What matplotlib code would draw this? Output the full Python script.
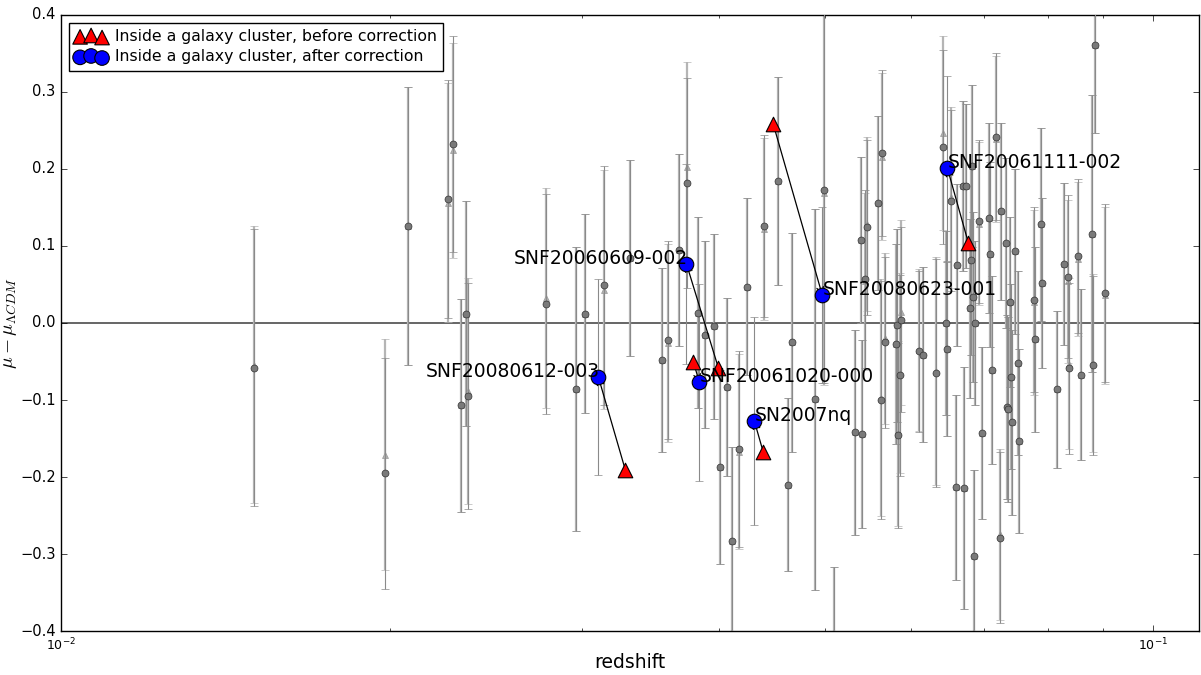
import numpy as np
import matplotlib
matplotlib.use("Agg")
import matplotlib.pyplot as plt

# ---- background SNe: redshift, residual after correction, error, shift of the "before" value ----
z = [0.01502, 0.01980, 0.02078, 0.02261, 0.02286, 0.02324, 0.02349, 0.02359, 0.02780, 0.02962,
     0.03019, 0.03143, 0.03320, 0.03551, 0.03597, 0.03681, 0.03744, 0.03832, 0.03889, 0.03963,
     0.04013, 0.04073, 0.04116, 0.04177, 0.04248, 0.04403, 0.04535, 0.04632, 0.04671, 0.04903,
     0.04997, 0.05104, 0.05335, 0.05403, 0.05414, 0.05449, 0.05472, 0.05600, 0.05636, 0.05648,
     0.05684, 0.05818, 0.05830, 0.05835, 0.05867, 0.05879, 0.06106, 0.06158, 0.06329, 0.06423,
     0.06464, 0.06470, 0.06531, 0.06614, 0.06600, 0.06699, 0.06713, 0.06741, 0.06799, 0.06813,
     0.06827, 0.06842, 0.06850, 0.06871, 0.06930, 0.06974, 0.07078, 0.07090, 0.07122, 0.07182,
     0.07244, 0.07259, 0.07336, 0.07340, 0.07366, 0.07396, 0.07413, 0.07420, 0.07475, 0.07522,
     0.07530, 0.07780, 0.07796, 0.07896, 0.07900, 0.08167, 0.08289, 0.08360, 0.08370, 0.08537,
     0.08592, 0.08793, 0.08800, 0.08850, 0.09036]
mu_after = [-0.058, -0.195, 0.126, 0.161, 0.232, -0.107, 0.012, -0.095, 0.025, -0.086,
            0.012, 0.049, 0.084, -0.048, -0.022, 0.095, 0.182, 0.013, -0.015, -0.004,
            -0.187, -0.083, -0.283, -0.164, 0.047, 0.126, 0.184, -0.210, -0.025, -0.099,
            0.172, -0.450, -0.142, 0.108, -0.144, 0.057, 0.124, 0.156, -0.100, 0.221,
            -0.025, -0.027, -0.003, -0.146, -0.068, 0.004, -0.037, -0.041, -0.065, 0.229,
            0.000, -0.034, 0.159, 0.075, -0.213, 0.178, -0.214, 0.178, 0.019, 0.082,
            0.204, 0.034, -0.303, 0.000, 0.132, -0.143, 0.136, 0.089, -0.061, 0.242,
            -0.279, 0.145, 0.104, -0.109, -0.112, 0.027, -0.070, -0.129, 0.093, -0.052,
            -0.153, 0.030, -0.021, 0.128, 0.052, -0.086, 0.077, 0.060, -0.059, 0.087,
            -0.067, 0.116, -0.055, 0.361, 0.039]
mu_err = [0.180, 0.150, 0.180, 0.155, 0.140, 0.138, 0.146, 0.147, 0.143, 0.184,
          0.129, 0.155, 0.127, 0.120, 0.128, 0.125, 0.136, 0.124, 0.121, 0.120,
          0.126, 0.115, 0.122, 0.127, 0.115, 0.118, 0.135, 0.112, 0.142, 0.247,
          0.250, 0.133, 0.133, 0.108, 0.122, 0.115, 0.113, 0.113, 0.154, 0.108,
          0.111, 0.130, 0.125, 0.120, 0.130, 0.120, 0.105, 0.114, 0.148, 0.126,
          0.120, 0.113, 0.118, 0.105, 0.120, 0.110, 0.157, 0.106, 0.116, 0.123,
          0.105, 0.110, 0.112, 0.107, 0.106, 0.112, 0.123, 0.120, 0.122, 0.108,
          0.111, 0.115, 0.110, 0.120, 0.120, 0.110, 0.120, 0.120, 0.107, 0.120,
          0.119, 0.120, 0.120, 0.125, 0.110, 0.102, 0.105, 0.106, 0.111, 0.100,
          0.111, 0.180, 0.116, 0.114, 0.115]
dmu_before = [0.004, 0.024, 0.0, -0.005, -0.008, 0.0, 0.0, 0.007, 0.007, 0.0,
              0.0, -0.006, 0.0, 0.0, -0.004, 0.0, 0.021, 0.0, 0.0, 0.0,
              0.0, 0.0, 0.0, -0.003, 0.0, -0.004, 0.0, 0.0, 0.0, 0.0,
              -0.003, 0.0, 0.0, 0.0, 0.0, -0.003, 0.004, 0.0, 0.003, -0.005,
              0.005, 0.0, 0.0, 0.003, 0.003, 0.010, 0.002, 0.0, 0.003, 0.018,
              0.0, 0.0, 0.004, 0.0, 0.0, 0.0, 0.0, 0.0, 0.0, 0.0,
              0.0, 0.0, 0.0, 0.0, -0.003, 0.0, 0.0, 0.0, 0.0, -0.003,
              0.005, 0.0, 0.0, 0.0, 0.0, 0.0, 0.0, 0.0, 0.0, 0.0,
              0.0, -0.003, 0.0, 0.0, 0.0, 0.0, 0.0, -0.006, 0.006, -0.004,
              0.0, 0.0, 0.003, 0.0, -0.003]

# ---- SNe inside a galaxy cluster ----
cl_names = ["SNF20080612-003", "SNF20060609-002", "SNF20061020-000",
            "SN2007nq", "SNF20080623-001", "SNF20061111-002"]
cl_z_before = [0.03285, 0.03996, 0.03792, 0.04394, 0.04487, 0.06770]
cl_mu_before = [-0.191, -0.058, -0.051, -0.168, 0.258, 0.104]
cl_z_after = [0.03103, 0.03736, 0.03840, 0.04311, 0.04976, 0.06477]
cl_mu_after = [-0.070, 0.077, -0.077, -0.127, 0.036, 0.201]
cl_err = [0.127, 0.130, 0.128, 0.135, 0.114, 0.120]
cl_label_side = ["left", "left", "right", "right", "right", "right"]

plt.style.use("classic")
plt.rcParams["figure.facecolor"] = "white"
plt.rcParams["savefig.facecolor"] = "white"
plt.rcParams["font.family"] = ["DejaVu Sans"]

z = np.array(z)
mu_after = np.array(mu_after)
mu_before = mu_after + np.array(dmu_before)
mu_err = np.array(mu_err)

fig = plt.figure(figsize=(12.01, 6.75), dpi=100)
ax = fig.add_axes([0.051, 0.065, 0.947, 0.913])

ax.axhline(0.0, color="0.35", lw=1.3, zorder=1)

# before correction (light) and after correction (darker) error bars
ax.errorbar(z, mu_before, yerr=mu_err, fmt="^", ms=5, color="#b0b0b0", mec="#999999",
            ecolor="#b5b5b5", elinewidth=1.6, capsize=3, zorder=2)
ax.errorbar(z, mu_after, yerr=mu_err, fmt="o", ms=5, mfc="#7a7a7a", mec="#333333",
            ecolor="#8a8a8a", elinewidth=0.8, capsize=3, zorder=3)
ax.errorbar(cl_z_after, cl_mu_after, yerr=cl_err, fmt="none",
            ecolor="#8a8a8a", elinewidth=0.8, capsize=3, zorder=3)

for zb, mb, za, ma in zip(cl_z_before, cl_mu_before, cl_z_after, cl_mu_after):
    ax.annotate("", xy=(za, ma), xytext=(zb, mb),
                arrowprops=dict(arrowstyle="->", color="k", lw=0.9,
                                shrinkA=0, shrinkB=0), zorder=4)

ax.scatter(cl_z_before, cl_mu_before, marker="^", s=110, c="red", edgecolors="k",
           linewidths=0.8, zorder=5, label="Inside a galaxy cluster, before correction")
ax.scatter(cl_z_after, cl_mu_after, marker="o", s=110, c="blue", edgecolors="k",
           linewidths=0.8, zorder=5, label="Inside a galaxy cluster, after correction")

for name, za, ma, side in zip(cl_names, cl_z_after, cl_mu_after, cl_label_side):
    if side == "left":
        ax.text(za * 1.003, ma, name, ha="right", va="baseline", fontsize=13.5, zorder=6)
    else:
        ax.text(za, ma, name, ha="left", va="baseline", fontsize=13.5, zorder=6)

ax.set_xscale("log")
ax.set_xlim(0.01, 0.11)
ax.set_ylim(-0.4, 0.4)
ax.set_yticks(np.arange(-0.4, 0.41, 0.1))
ax.tick_params(axis="y", labelsize=10.5)
ax.tick_params(axis="x", labelsize=9)
ax.set_xlabel("redshift", fontsize=13.5)
ax.xaxis.set_label_coords(0.5, -0.036)
ax.set_ylabel(r"$\mu - \mu_{\Lambda CDM}$", fontsize=14)
ax.yaxis.set_label_coords(-0.037, 0.5)

ax.legend(loc="upper left", fontsize=11.3, scatterpoints=3, fancybox=False,
          borderpad=0.4, labelspacing=0.35, handletextpad=0.5)

fig.savefig("out.png", dpi=100)
